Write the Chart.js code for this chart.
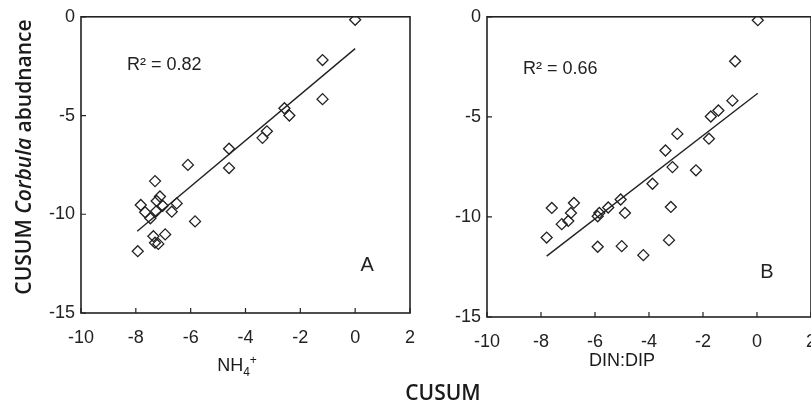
<!DOCTYPE html>
<html>
<head>
<meta charset="utf-8">
<script src="https://cdn.jsdelivr.net/npm/chart.js@4.4.1/dist/chart.umd.min.js"></script>
<style>
    html, body { margin: 0; padding: 0; background: #fff; overflow: hidden; width: 811px; height: 406px; }
    canvas { position: absolute; top: 0; }
    #chartA { left: 0; }
    #chartB { left: 430px; }
    .lbl { position: absolute; color: #1a1a1a; white-space: nowrap; text-align: center; }
    #ytitle { font: 600 21px 'Open Sans', sans-serif; width: 320px; left: -137px; top: 142px; line-height: 30px; transform: rotate(-90deg); }
    #xtitle { font: 600 21px 'Open Sans', sans-serif; width: 200px; left: 343px; top: 377px; line-height: 30px; }
    #xA { font: 18px 'Liberation Sans', Arial, sans-serif; width: 120px; left: 177px; top: 354px; line-height: 22px; }
    #xB { font: 18px 'Liberation Sans', Arial, sans-serif; width: 120px; left: 562px; top: 349px; line-height: 22px; }
    sub, sup { font-size: 12px; line-height: 0; }
</style>
</head>
<body>
<canvas id="chartA" width="430" height="406"></canvas>
<canvas id="chartB" width="400" height="406"></canvas>
<div class="lbl" id="ytitle">CUSUM <i>Corbula</i> abudnance</div>
<div class="lbl" id="xA">NH<sub>4</sub><sup>+</sup></div>
<div class="lbl" id="xB">DIN:DIP</div>
<div class="lbl" id="xtitle">CUSUM</div>
<script>
// Panel A: CUSUM NH4+ vs CUSUM Corbula abundance
const nh4X = [0, -1.19, -1.19, -2.58, -2.40, -3.22, -3.38, -4.60, -4.60, -6.10,
    -7.30, -7.12, -7.24, -6.51, -7.02, -7.82, -7.66, -7.26, -6.69, -7.47,
    -5.84, -6.93, -7.36, -7.30, -7.18, -7.93];
const nh4Y = [-0.15, -2.19, -4.17, -4.63, -5.00, -5.80, -6.13, -6.68, -7.66, -7.50,
    -8.32, -9.10, -9.33, -9.45, -9.57, -9.53, -9.90, -9.85, -9.87, -10.20,
    -10.36, -11.02, -11.11, -11.44, -11.50, -11.87];
const trendAX = [-7.95, 0];
const trendAY = [-10.86, -1.61];

// Panel B: CUSUM DIN:DIP vs CUSUM Corbula abundance
const dinX = [0.03, -0.81, -0.91, -1.43, -1.71, -1.78, -2.26, -2.95, -3.39, -3.13,
    -3.87, -3.19, -3.26, -4.21, -5.01, -5.90, -5.05, -4.89, -5.51, -5.84,
    -5.90, -6.78, -6.89, -6.99, -7.23, -7.60, -7.79];
const dinY = [-0.17, -2.22, -4.19, -4.68, -4.98, -6.09, -7.67, -5.85, -6.68, -7.51,
    -8.34, -9.50, -11.16, -11.91, -11.46, -11.49, -9.13, -9.80, -9.53, -9.80,
    -9.97, -9.30, -9.80, -10.20, -10.36, -9.55, -11.03];
const trendBX = [-7.79, 0.03];
const trendBY = [-11.96, -3.82];

const xTicks = [-10, -8, -6, -4, -2, 0, 2];
const yTicks = [-15, -10, -5, 0];

const ink = '#222';
const tickFont = { family: "'Liberation Sans', Arial, sans-serif", size: 18 };

function toPoints(xs, ys) {
    return xs.map((x, i) => ({ x: x, y: ys[i] }));
}

// frame round the plot area, inward tick marks and the panel notes
const framePlugin = {
    id: 'frame',
    afterDraw(chart, args, opts) {
        const ctx = chart.ctx;
        const a = chart.chartArea;
        const sx = chart.scales.x, sy = chart.scales.y;
        ctx.save();
        ctx.strokeStyle = ink;
        ctx.lineWidth = 1.6;
        ctx.strokeRect(a.left, a.top, a.right - a.left, a.bottom - a.top);
        ctx.lineWidth = 1.2;
        ctx.beginPath();
        xTicks.forEach(v => {
            const px = sx.getPixelForValue(v);
            ctx.moveTo(px, a.bottom);
            ctx.lineTo(px, a.bottom - 5);
        });
        yTicks.forEach(v => {
            const py = sy.getPixelForValue(v);
            ctx.moveTo(a.left, py);
            ctx.lineTo(a.left + 5, py);
        });
        ctx.stroke();
        ctx.fillStyle = ink;
        ctx.font = "18px 'Liberation Sans', Arial, sans-serif";
        ctx.textBaseline = 'middle';
        ctx.textAlign = 'left';
        ctx.fillText(opts.r2, sx.getPixelForValue(opts.r2x), sy.getPixelForValue(opts.r2y));
        ctx.font = "20px 'Liberation Sans', Arial, sans-serif";
        ctx.textAlign = 'center';
        ctx.fillText(opts.tag, sx.getPixelForValue(opts.tagx), sy.getPixelForValue(opts.tagy));
        ctx.restore();
    }
};

function makePanel(id, xs, ys, tx, ty, sizes, note) {
    return new Chart(document.getElementById(id), {
        type: 'scatter',
        data: {
            datasets: [
                {
                    data: toPoints(xs, ys),
                    pointStyle: 'rectRot',
                    pointRadius: 5.5,
                    borderColor: ink,
                    borderWidth: 1.3,
                    backgroundColor: 'rgba(0,0,0,0)'
                },
                {
                    data: toPoints(tx, ty),
                    showLine: true,
                    pointRadius: 0,
                    borderColor: ink,
                    borderWidth: 1.4
                }
            ]
        },
        options: {
            responsive: false,
            animation: false,
            events: [],
            layout: { padding: { top: sizes.top, right: sizes.right, left: 0, bottom: 0 } },
            plugins: {
                legend: { display: false },
                tooltip: { enabled: false },
                frame: note
            },
            scales: {
                x: {
                    type: 'linear', min: -10, max: 2,
                    grid: { display: false, drawTicks: false },
                    border: { display: false },
                    afterBuildTicks: s => { s.ticks = xTicks.map(v => ({ value: v })); },
                    ticks: { color: ink, font: tickFont, padding: 14, maxRotation: 0, autoSkip: false },
                    afterFit: s => { s.height = sizes.xh; }
                },
                y: {
                    type: 'linear', min: -15, max: 0,
                    grid: { display: false, drawTicks: false },
                    border: { display: false },
                    afterBuildTicks: s => { s.ticks = yTicks.map(v => ({ value: v })); },
                    ticks: { color: ink, font: tickFont, padding: 6 },
                    afterFit: s => { s.width = sizes.yw; }
                }
            }
        },
        plugins: [framePlugin]
    });
}

makePanel('chartA', nh4X, nh4Y, trendAX, trendAY,
    { top: 12, right: 20, xh: 93, yw: 81 },
    { r2: 'R² = 0.82', r2x: -8.32, r2y: -2.44, tag: 'A', tagx: 0.44, tagy: -12.6 });
makePanel('chartB', dinX, dinY, trendBX, trendBY,
    { top: 16, right: 19, xh: 89, yw: 57 },
    { r2: 'R² = 0.66', r2x: -8.67, r2y: -2.59, tag: 'B', tagx: 0.37, tagy: -12.8 });
</script>
</body>
</html>
